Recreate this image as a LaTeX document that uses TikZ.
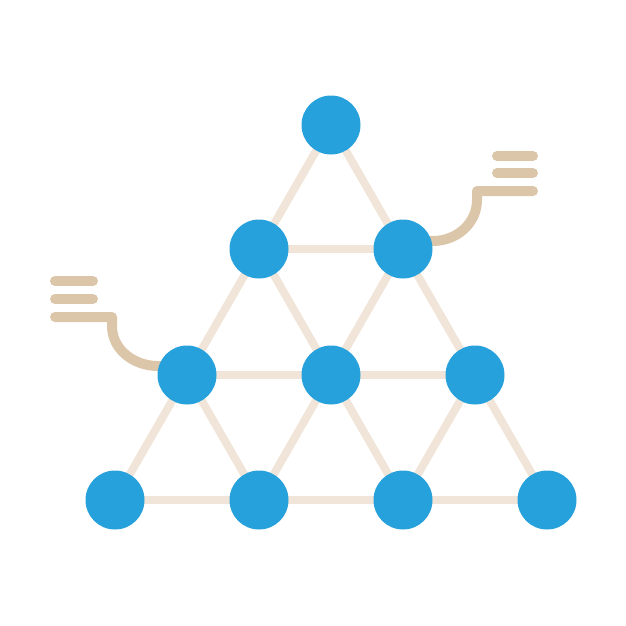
\documentclass[tikz,border=0pt]{standalone}
\usetikzlibrary{positioning}
\definecolor{dotblue}{HTML}{27A1DC}
\definecolor{rodbeige}{HTML}{F0E5D8}
\definecolor{tagtan}{HTML}{DCC6AA}
\tikzset{
	dot/.style={circle, fill=dotblue, minimum size=59pt, inner sep=0pt},
	rod/.style={rodbeige, line width=8pt},
	tag/.style={tagtan, line width=10pt, line cap=round, line join=round}
}
\begin{document}
\begin{tikzpicture}[x=1pt, y=-1pt]
		\useasboundingbox (0,0) rectangle (626,626);
		% lattice points
		\coordinate (a) at (331,125);
		\coordinate (b1) at (259,249); \coordinate (b2) at (403,249);
		\coordinate (c1) at (187,375); \coordinate (c2) at (331,375); \coordinate (c3) at (475,375);
		\coordinate (d1) at (115,500); \coordinate (d2) at (259,500); \coordinate (d3) at (403,500); \coordinate (d4) at (547,500);
		% tag ends
		\coordinate (rt) at (533,191); \coordinate (lt) at (55,317);
		% rods
		\draw[rod] (b1) -- (b2) (c1) -- (c3) (d1) -- (d4);
		\draw[rod] (a) -- (d1) (b2) -- (d2) (c3) -- (d3);
		\draw[rod] (a) -- (d4) (b1) -- (d3) (c1) -- (d2);
		% tags
		\draw[tag] (b2) ++(-3,-8) -- ++(33,0) to[out=0,in=-90] (477,200) -- (477,191) -- (rt);
		\draw[tag] (497,156) -- (533,156) (497,173) -- (533,173);
		\draw[tag] (c1) ++(-2,-9) -- ++(-27,0) to[out=180,in=-90] (112,326) -- (112,317) -- (lt);
		\draw[tag] (55,281) -- (93,281) (55,299) -- (93,299);
		% balls
		\foreach \p in {a,b1,b2,c1,c2,c3,d1,d2,d3,d4}
			\node[dot] (n\p) at (\p) {};
		\end{tikzpicture}
\end{document}
